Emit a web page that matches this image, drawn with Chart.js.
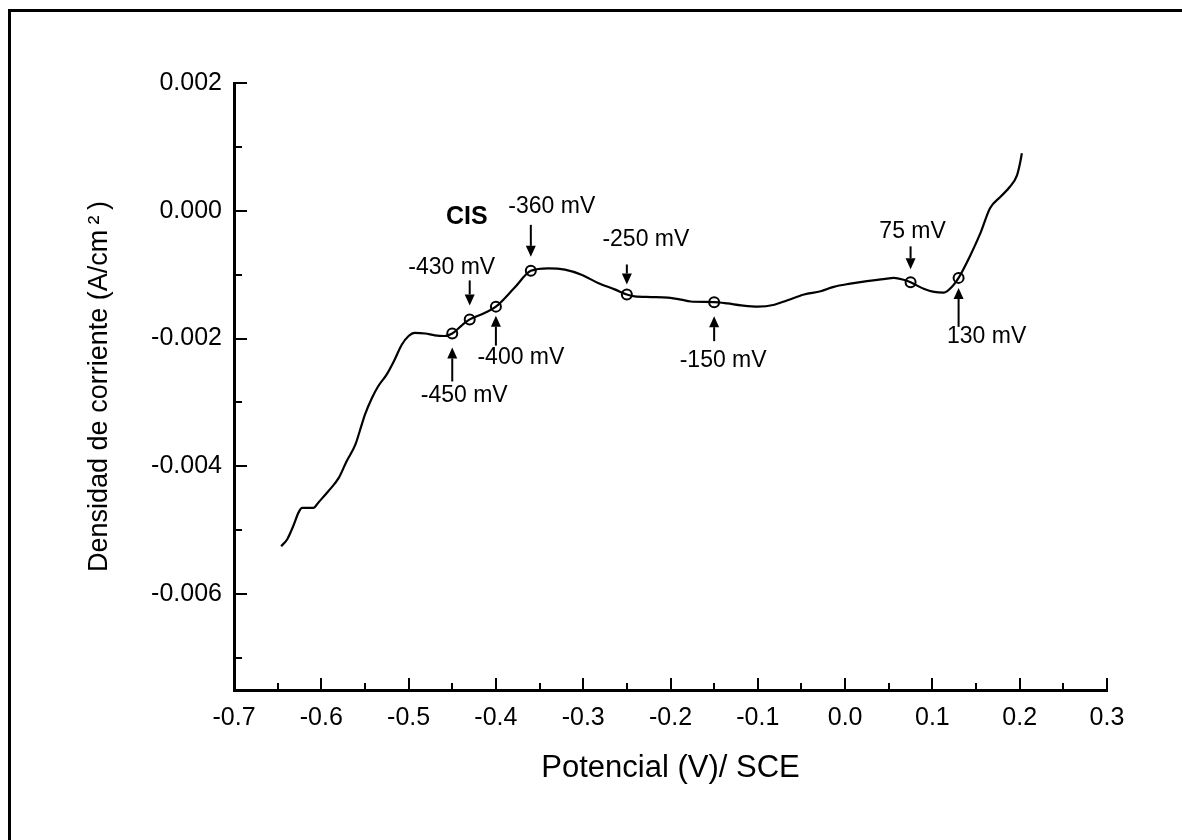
<!DOCTYPE html>
<html>
<head>
<meta charset="utf-8">
<title>Densidad de corriente vs potencial</title>
<script src="https://cdn.jsdelivr.net/npm/chart.js@4.4.1/dist/chart.umd.min.js"></script>
<style>
  html, body { margin: 0; padding: 0; background: #fff; }
</style>
</head>
<body>
<canvas id="polarizacion" width="1182" height="840"></canvas>
<script>
// Curva de polarización: potencial (V vs SCE) y densidad de corriente (A/cm2)
const potencial = [-0.646, -0.639, -0.632, -0.626, -0.622, -0.609, -0.603, -0.592, -0.580, -0.571,
  -0.561, -0.556, -0.550, -0.542, -0.535, -0.525, -0.516, -0.508, -0.500, -0.493,
  -0.481, -0.470, -0.459, -0.450, -0.438, -0.430, -0.413, -0.400, -0.379, -0.360,
  -0.340, -0.321, -0.302, -0.283, -0.264, -0.250, -0.241, -0.222, -0.203, -0.188,
  -0.177, -0.150, -0.135, -0.119, -0.100, -0.081, -0.066, -0.047, -0.028, -0.013,
  0.006, 0.025, 0.044, 0.056, 0.067, 0.075, 0.090, 0.102, 0.113, 0.123,
  0.130, 0.143, 0.155, 0.166, 0.178, 0.189, 0.197, 0.200, 0.2025];
const densidad = [-0.00525, -0.00514, -0.00493, -0.00472, -0.00465, -0.00465, -0.00456, -0.00439, -0.00418, -0.00392,
  -0.00366, -0.00345, -0.00319, -0.00293, -0.00275, -0.00256, -0.00233, -0.00210, -0.00196, -0.00191,
  -0.00192, -0.00195, -0.00196, -0.00192, -0.00178, -0.00170, -0.00160, -0.00150, -0.00121, -0.00094,
  -0.00090, -0.00092, -0.00100, -0.00113, -0.00123, -0.00131, -0.00134, -0.00135, -0.00136, -0.00139,
  -0.00142, -0.00143, -0.00145, -0.00148, -0.00150, -0.00147, -0.00140, -0.00131, -0.00126, -0.00119,
  -0.00114, -0.00110, -0.00107, -0.00105, -0.00108, -0.00112, -0.00122, -0.00127, -0.00128, -0.00118,
  -0.00105, -0.00071, -0.00035, 0.00004, 0.00022, 0.00038, 0.00056, 0.00072, 0.00090];

// Potenciales marcados sobre la curva
const marcasPotencial = [-0.45, -0.43, -0.40, -0.36, -0.25, -0.15, 0.075, 0.13];
const marcasDensidad = [-0.00192, -0.00170, -0.00150, -0.00094, -0.00131, -0.00143, -0.00112, -0.00105];
const marcasTexto = ['-450 mV', '-430 mV', '-400 mV', '-360 mV', '-250 mV', '-150 mV', '75 mV', '130 mV'];

// Marcas de los ejes
const xTicks = [-0.7, -0.6, -0.5, -0.4, -0.3, -0.2, -0.1, 0.0, 0.1, 0.2, 0.3];
const xTicksMenores = [-0.65, -0.55, -0.45, -0.35, -0.25, -0.15, -0.05, 0.05, 0.15, 0.25];
const yTicks = [-0.006, -0.004, -0.002, 0.000, 0.002];
const yTicksMenores = [-0.007, -0.005, -0.003, -0.001, 0.001];

const FUENTE = "'Liberation Sans', Arial, Helvetica, sans-serif";
Chart.defaults.font.family = FUENTE;
Chart.defaults.color = '#000';

// flechas: dirección, separación de la punta al círculo, largo, y desplazamiento del texto (px)
const flechas = [
  { dir: 'up', gap: 14, len: 34, dx: 12, dy: 62 },
  { dir: 'down', gap: 14, len: 25, dx: -18, dy: -52 },
  { dir: 'up', gap: 9, len: 30, dx: 25, dy: 51 },
  { dir: 'down', gap: 14, len: 32, dx: 21, dy: -64 },
  { dir: 'down', gap: 10, len: 20, dx: 19, dy: -55 },
  { dir: 'up', gap: 14, len: 25, dx: 9, dy: 58 },
  { dir: 'down', gap: 13, len: 23, dx: 2, dy: -51 },
  { dir: 'up', gap: 10, len: 39, dx: 28, dy: 59 },
];

function dibujarFlecha(ctx, x, yPunta, yCola) {
  const sentido = yCola > yPunta ? 1 : -1;
  const cabeza = 11;
  ctx.beginPath();
  ctx.moveTo(x, yCola);
  ctx.lineTo(x, yPunta + sentido * cabeza);
  ctx.stroke();
  ctx.beginPath();
  ctx.moveTo(x, yPunta);
  ctx.lineTo(x - 5, yPunta + sentido * cabeza);
  ctx.lineTo(x + 5, yPunta + sentido * cabeza);
  ctx.closePath();
  ctx.fill();
}

const fondoMarco = {
  id: 'fondoMarco',
  beforeDraw(chart) {
    const { ctx, width, height } = chart;
    ctx.save();
    ctx.fillStyle = '#fff';
    ctx.fillRect(0, 0, width, height);
    ctx.strokeStyle = '#000';
    ctx.lineWidth = 3;
    ctx.beginPath();
    ctx.moveTo(9.5, height + 5);
    ctx.lineTo(9.5, 10.5);
    ctx.lineTo(width + 5, 10.5);
    ctx.stroke();
    ctx.restore();
  },
};

// marcas de los ejes hacia adentro (mayores y menores)
const marcasEjes = {
  id: 'marcasEjes',
  afterDraw(chart) {
    const { ctx, chartArea, scales: { x, y } } = chart;
    ctx.save();
    ctx.strokeStyle = '#000';
    ctx.lineWidth = 2;
    ctx.beginPath();
    xTicks.forEach((v) => {
      const px = Math.round(x.getPixelForValue(v));
      ctx.moveTo(px, chartArea.bottom);
      ctx.lineTo(px, chartArea.bottom - 12);
    });
    xTicksMenores.forEach((v) => {
      const px = Math.round(x.getPixelForValue(v));
      ctx.moveTo(px, chartArea.bottom);
      ctx.lineTo(px, chartArea.bottom - 7);
    });
    yTicks.forEach((v) => {
      const py = Math.round(y.getPixelForValue(v));
      ctx.moveTo(chartArea.left, py);
      ctx.lineTo(chartArea.left + 13, py);
    });
    yTicksMenores.forEach((v) => {
      const py = Math.round(y.getPixelForValue(v));
      ctx.moveTo(chartArea.left, py);
      ctx.lineTo(chartArea.left + 8, py);
    });
    ctx.stroke();
    ctx.restore();
  },
};

// flechas y rótulos de los potenciales marcados
const rotulos = {
  id: 'rotulos',
  afterDatasetsDraw(chart) {
    const { ctx, scales: { x, y } } = chart;
    ctx.save();
    ctx.strokeStyle = '#000';
    ctx.fillStyle = '#000';
    ctx.lineWidth = 2;
    ctx.font = `23px ${FUENTE}`;
    ctx.textAlign = 'center';
    ctx.textBaseline = 'middle';
    marcasPotencial.forEach((v, i) => {
      const f = flechas[i];
      const px = x.getPixelForValue(v);
      const py = y.getPixelForValue(marcasDensidad[i]);
      const s = f.dir === 'up' ? 1 : -1;
      dibujarFlecha(ctx, px, py + s * f.gap, py + s * (f.gap + f.len));
      ctx.fillText(marcasTexto[i], px + f.dx, py + f.dy);
    });
    // rótulo CIS junto a la marca de -360 mV
    const cx = x.getPixelForValue(marcasPotencial[3]);
    const cy = y.getPixelForValue(marcasDensidad[3]);
    ctx.font = `bold 25px ${FUENTE}`;
    ctx.fillText('CIS', cx - 64, cy - 54);
    ctx.restore();
  },
};

new Chart(document.getElementById('polarizacion'), {
  type: 'scatter',
  data: {
    datasets: [
      {
        label: 'Curva',
        data: potencial.map((v, i) => ({ x: v, y: densidad[i] })),
        showLine: true,
        borderColor: '#000',
        borderWidth: 2.2,
        pointRadius: 0,
        cubicInterpolationMode: 'monotone',
      },
      {
        label: 'Marcas',
        data: marcasPotencial.map((v, i) => ({ x: v, y: marcasDensidad[i] })),
        showLine: false,
        pointStyle: 'circle',
        pointRadius: 5,
        borderColor: '#000',
        borderWidth: 2,
        backgroundColor: 'rgba(0,0,0,0)',
      },
    ],
  },
  options: {
    responsive: false,
    animation: false,
    layout: { padding: { top: 83, right: 75, left: 0, bottom: 0 } },
    plugins: { legend: { display: false }, tooltip: { enabled: false } },
    scales: {
      x: {
        type: 'linear',
        position: 'bottom',
        min: -0.7,
        max: 0.3,
        afterBuildTicks: (s) => { s.ticks = xTicks.map((v) => ({ value: v })); },
        afterFit: (s) => { s.height = 150; },
        ticks: { callback: (v) => Number(v).toFixed(1), font: { size: 25 }, padding: 13, maxRotation: 0, autoSkip: false },
        grid: { display: false, drawTicks: false },
        border: { display: true, color: '#000', width: 3 },
        title: { display: true, text: 'Potencial (V)/ SCE', font: { size: 31 }, padding: { top: 0, bottom: 53 } },
      },
      y: {
        type: 'linear',
        min: -0.0075,
        max: 0.002,
        afterBuildTicks: (s) => { s.ticks = yTicks.map((v) => ({ value: v })); },
        afterFit: (s) => { s.width = 234; },
        ticks: { callback: (v) => Number(v).toFixed(3), font: { size: 25 }, padding: 12, autoSkip: false },
        grid: { display: false, drawTicks: false },
        border: { display: true, color: '#000', width: 3 },
        title: { display: true, text: 'Densidad de corriente (A/cm\u2009\u00b2\u2009)', font: { size: 27 }, padding: { top: 83, bottom: 0 } },
      },
    },
  },
  plugins: [fondoMarco, marcasEjes, rotulos],
});
</script>
</body>
</html>
